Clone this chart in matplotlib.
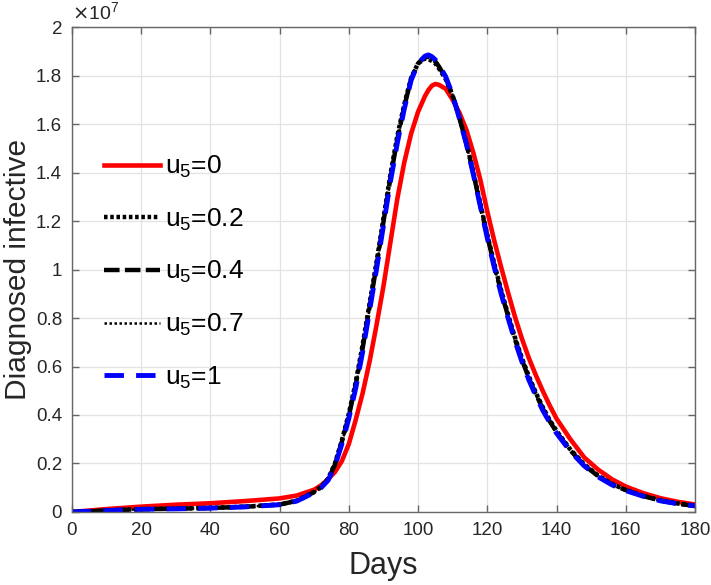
import matplotlib
matplotlib.use("Agg")
import matplotlib.pyplot as plt
import numpy as np

plt.rcParams['font.family'] = ['Liberation Sans', 'DejaVu Sans']

# values in units of 1e7
days = [0, 10, 20, 30, 40, 50, 60, 65, 70, 72, 74, 76, 78, 80, 82, 84, 86, 88, 90, 92,
        94, 96, 98, 100, 102, 103, 104, 105, 106, 108, 110, 112, 114, 116, 118, 120, 122,
        124, 126, 128, 130, 132, 134, 136, 138, 140, 144, 148, 152, 156, 160, 165, 170,
        175, 180]

u5_0 = [0, 0.012, 0.022, 0.030, 0.036, 0.045, 0.056, 0.068, 0.092, 0.110, 0.135, 0.165,
        0.210, 0.280, 0.380, 0.490, 0.620, 0.770, 0.930, 1.110, 1.290, 1.440, 1.560, 1.650,
        1.715, 1.740, 1.758, 1.765, 1.762, 1.745, 1.700, 1.645, 1.575, 1.480, 1.370, 1.240,
        1.120, 1.010, 0.905, 0.805, 0.715, 0.635, 0.565, 0.500, 0.440, 0.385, 0.300, 0.225,
        0.175, 0.135, 0.105, 0.078, 0.057, 0.042, 0.031]

u5_02 = [0, 0.006, 0.012, 0.014, 0.017, 0.022, 0.031, 0.047, 0.083, 0.104, 0.137, 0.200,
         0.295, 0.405, 0.535, 0.690, 0.860, 1.030, 1.210, 1.390, 1.550, 1.680, 1.790, 1.850,
         1.870, 1.868, 1.860, 1.850, 1.830, 1.785, 1.715, 1.625, 1.520, 1.400, 1.270, 1.145,
         1.025, 0.915, 0.815, 0.720, 0.635, 0.560, 0.493, 0.433, 0.380, 0.335, 0.258, 0.197,
         0.150, 0.116, 0.091, 0.067, 0.048, 0.035, 0.026]

u5_04 = [0, 0.006, 0.0115, 0.0135, 0.0165, 0.0215, 0.0305, 0.046, 0.082, 0.102, 0.134,
         0.195, 0.290, 0.395, 0.525, 0.675, 0.845, 1.015, 1.195, 1.375, 1.535, 1.670, 1.785,
         1.850, 1.876, 1.877, 1.870, 1.858, 1.838, 1.790, 1.718, 1.622, 1.518, 1.395, 1.265,
         1.138, 1.018, 0.908, 0.808, 0.712, 0.628, 0.552, 0.487, 0.427, 0.375, 0.330, 0.254,
         0.193, 0.148, 0.114, 0.090, 0.066, 0.047, 0.034, 0.025]

u5_07 = [0, 0.006, 0.0112, 0.0132, 0.0162, 0.0212, 0.0302, 0.0455, 0.081, 0.101, 0.132,
         0.192, 0.285, 0.390, 0.518, 0.668, 0.838, 1.008, 1.188, 1.368, 1.528, 1.665, 1.783,
         1.850, 1.879, 1.881, 1.875, 1.862, 1.842, 1.793, 1.719, 1.621, 1.516, 1.392, 1.262,
         1.134, 1.014, 0.904, 0.804, 0.708, 0.624, 0.549, 0.484, 0.424, 0.372, 0.328, 0.252,
         0.191, 0.147, 0.113, 0.089, 0.065, 0.046, 0.034, 0.025]

u5_1 = [0, 0.006, 0.011, 0.013, 0.016, 0.021, 0.030, 0.045, 0.080, 0.100, 0.130, 0.190,
        0.280, 0.385, 0.510, 0.660, 0.830, 1.000, 1.180, 1.360, 1.520, 1.660, 1.780, 1.850,
        1.880, 1.885, 1.878, 1.865, 1.845, 1.795, 1.720, 1.620, 1.515, 1.390, 1.260, 1.130,
        1.010, 0.900, 0.800, 0.705, 0.620, 0.545, 0.480, 0.420, 0.370, 0.325, 0.250, 0.190,
        0.145, 0.112, 0.088, 0.065, 0.046, 0.034, 0.025]

labels = [r'$\mathregular{u_5}$=0', r'$\mathregular{u_5}$=0.2', r'$\mathregular{u_5}$=0.4',
          r'$\mathregular{u_5}$=0.7', r'$\mathregular{u_5}$=1']

fig = plt.figure(figsize=(7.11, 5.85), dpi=100)
ax = fig.add_axes([0.101, 0.1248, 0.8765, 0.829])

ax.plot(days, u5_0, color='red', lw=3.3, label=labels[0])
ax.plot(days, u5_02, color='black', lw=3.2, linestyle=(0, (0.8, 0.6)), label=labels[1])
ax.plot(days, u5_04, color='black', lw=3.2, linestyle=(0, (3.5, 1.2)), label=labels[2])
ax.plot(days, u5_07, color='black', lw=1.8, linestyle=(0, (1, 1)), label=labels[3])
ax.plot(days, u5_1, color='blue', lw=3.5, linestyle=(0, (4, 2.5)), label=labels[4])

ax.set_xlim(0, 180)
ax.set_ylim(0, 2)
ax.set_xticks(np.arange(0, 181, 20))
ax.set_yticks(np.arange(0, 2.01, 0.2))
ax.yaxis.set_major_formatter(matplotlib.ticker.FuncFormatter(lambda v, p: '%g' % round(v, 1)))

ax.grid(True, color='#e3e3e3', lw=0.9)
ax.set_axisbelow(True)
for s in ax.spines.values():
    s.set_color('#666666')
    s.set_linewidth(1.0)
ax.tick_params(direction='in', length=5, width=1.0, color='#666666', labelcolor='#262626',
               labelsize=13.5, top=True, right=True, pad=7)

ax.text(0.0, 1.008, r'$\times\mathregular{10^7}$', transform=ax.transAxes,
        fontsize=14, color='#262626', ha='left', va='bottom')

ax.set_xlabel('Days', fontsize=22, color='#262626', labelpad=9)
ax.set_ylabel('Diagnosed infective', fontsize=21.5, color='#262626', labelpad=3)

ax.legend(loc='upper left', bbox_to_anchor=(0.035, 0.76), frameon=False, fontsize=19,
          handlelength=2.1, handletextpad=0.2, labelspacing=1.0, borderaxespad=0)

fig.savefig('out.png', dpi=100)
